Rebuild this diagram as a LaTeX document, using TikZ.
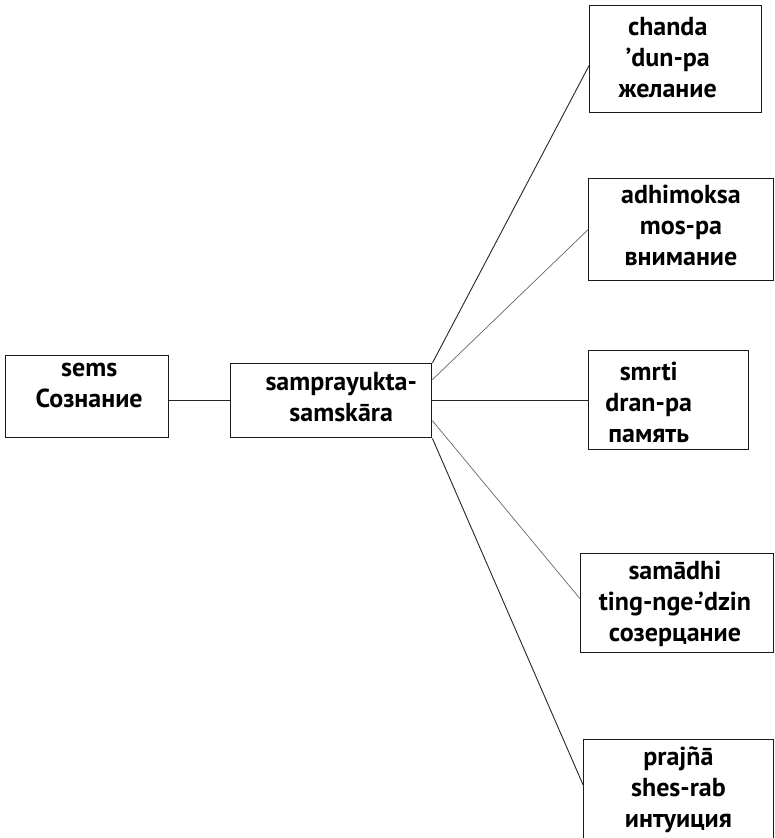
\documentclass[tikz,border=0pt]{standalone}
\usepackage{fontspec}
\setmainfont{PT Sans}
\begin{document}
\begin{tikzpicture}[x=1pt,y=-1pt,
  box/.style={rectangle, draw=black!90, line width=1.4pt, inner sep=0pt, anchor=north west},
  lbl/.style={font=\fontsize{26}{31}\selectfont\bfseries, align=center, inner sep=0pt, anchor=north,
              execute at begin node=\strut, execute at end node=\strut},
  link/.style={line width=0.9pt, draw=black!85},
  faint/.style={line width=0.7pt, draw=black!60}]
  \useasboundingbox (0,0) rectangle (774,838);
  \clip (0,0) rectangle (774,838);

  % frames
  \node[box, minimum width=163pt, minimum height=82pt]   (sems)      at (5,355) {};
  \node[box, minimum width=201pt, minimum height=74pt]   (sampra)    at (230,363) {};
  \node[box, minimum width=172pt, minimum height=107pt]  (chanda)    at (589,5) {};
  \node[box, minimum width=184.5pt, minimum height=102pt] (adhimoksa) at (588,178) {};
  \node[box, minimum width=160pt, minimum height=99pt]   (smrti)     at (588,350) {};
  \node[box, minimum width=192.5pt, minimum height=99pt] (samadhi)   at (580,553) {};
  \node[box, minimum width=189.5pt, minimum height=110pt] (prajna)   at (583,739) {};

  % labels
  \node[lbl] (semsT)      at ([xshift=2pt,yshift=-8pt]sems.north) {sems\\Сознание};
  \node[lbl] (sampraT)    at ([xshift=10pt,yshift=-9pt]sampra.north) {samprayukta-\\samskāra};
  \node[lbl] (chandaT)    at ([xshift=-8pt,yshift=-12pt]chanda.north) {chanda\\’dun-pa\\желание};
  \node[lbl] (adhimoksaT) at ([yshift=-7pt]adhimoksa.north) {adhimoksa\\mos-pa\\внимание};
  \node[lbl] (smrtiT)     at ([xshift=-20pt,yshift=-12pt]smrti.north) {smrti\\dran-pa\\память};
  \node[lbl] (samadhiT)   at ([xshift=-2pt,yshift=-8pt]samadhi.north) {samādhi\\ting-nge-’dzin\\созерцание};
  \node[lbl] (prajnaT)    at ([yshift=-7pt]prajna.north) {prajñā\\shes-rab\\интуиция};

  % connectors
  \draw[link]  (sems.east |- sampra.west) -- (sampra.west);
  \draw[link]  (sampra.east) -- (sampra.east -| smrti.west);
  \draw[link]  (sampra.north east) -- ([yshift=-6.5pt]chanda.west);
  \draw[faint] ([yshift=21pt]sampra.east) -- (adhimoksa.west);
  \draw[faint] ([yshift=-20pt]sampra.east) -- ([yshift=4.5pt]samadhi.west);
  \draw[link]  (sampra.south east) -- ([yshift=10pt]prajna.west);
\end{tikzpicture}
\end{document}
